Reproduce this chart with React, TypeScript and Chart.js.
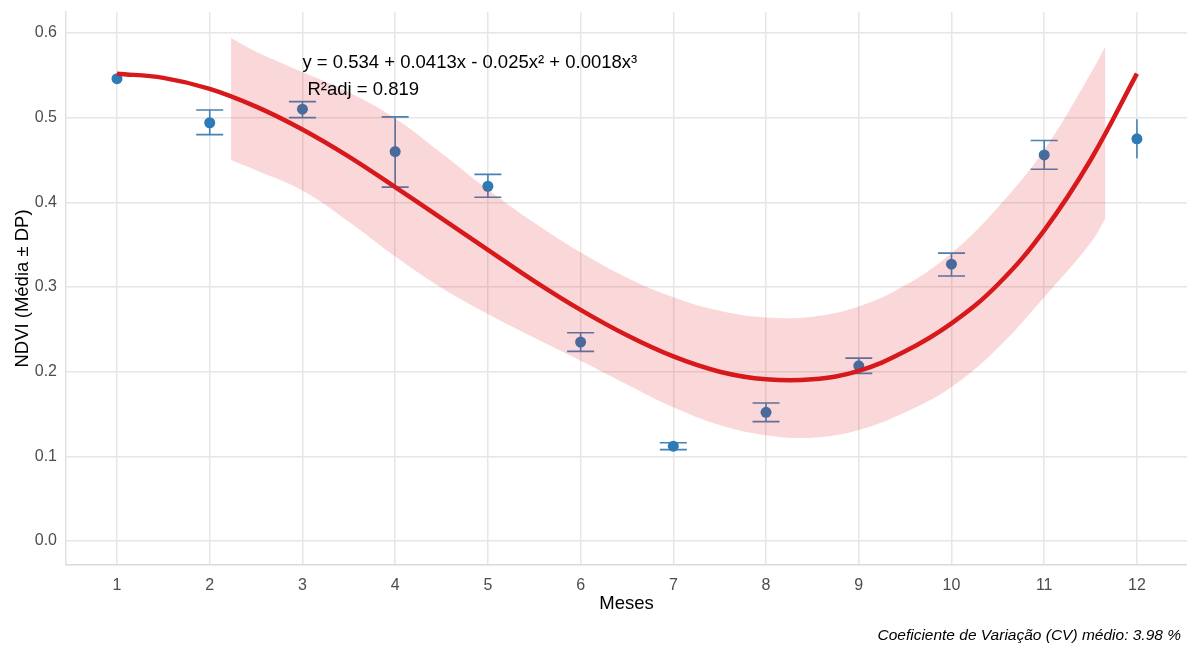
import React, { useEffect, useRef } from 'react';
import { Chart, registerables } from 'chart.js';

Chart.register(...registerables);

// ---- data ----
const months = [1, 2, 3, 4, 5, 6, 7, 8, 9, 10, 11, 12];
const ndviMean = [0.546, 0.494, 0.510, 0.460, 0.419, 0.235, 0.112, 0.152, 0.207, 0.327, 0.456, 0.475];
const ndviLow = [0.543, 0.480, 0.500, 0.418, 0.406, 0.224, 0.108, 0.141, 0.198, 0.313, 0.439, 0.452];
const ndviHigh = [0.549, 0.509, 0.519, 0.501, 0.433, 0.246, 0.116, 0.163, 0.216, 0.340, 0.473, 0.498];

const fitX = [1, 1.5, 2, 2.5, 3, 3.5, 4, 4.5, 5, 5.5, 6, 6.5, 7, 7.5, 8, 8.5, 9, 9.5, 10, 10.5, 11, 11.5, 12];
const fitY = [0.552, 0.547, 0.534, 0.513, 0.486, 0.454, 0.418, 0.381, 0.344, 0.307, 0.273, 0.243, 0.218, 0.200, 0.191, 0.191, 0.201, 0.224, 0.257, 0.303, 0.367, 0.450, 0.552];

const bandX = [2.23, 2.5, 3, 3.5, 4, 4.5, 5, 5.5, 6, 6.5, 7, 7.5, 8, 8.5, 9, 9.5, 10, 10.5, 11, 11.5, 11.66];
const bandUpper = [0.594, 0.578, 0.554, 0.530, 0.499, 0.458, 0.415, 0.376, 0.341, 0.311, 0.288, 0.272, 0.264, 0.265, 0.277, 0.302, 0.340, 0.394, 0.462, 0.552, 0.584];
const bandLower = [0.450, 0.438, 0.414, 0.377, 0.336, 0.299, 0.268, 0.240, 0.213, 0.185, 0.158, 0.137, 0.125, 0.122, 0.131, 0.152, 0.182, 0.228, 0.288, 0.352, 0.381];

const yTicks = [0, 0.1, 0.2, 0.3, 0.4, 0.5, 0.6];

const equationText = 'y = 0.534 + 0.0413x - 0.025x\u00B2 + 0.0018x\u00B3';
const r2Text = 'R\u00B2adj = 0.819';
const captionText = 'Coeficiente de Varia\u00E7\u00E3o (CV) m\u00E9dio: 3.98 %';
const xTitle = 'Meses';
const yTitle = 'NDVI (M\u00E9dia \u00B1 DP)';

const FONT = '"Liberation Sans", Arial, sans-serif';

export default function App() {
  const canvasRef = useRef<HTMLCanvasElement | null>(null);

  useEffect(() => {
    document.body.style.margin = '0';
    const canvas = canvasRef.current;
    if (!canvas) return;

    const errorBarPlugin = {
      id: 'errorBars',
      beforeDatasetDraw(chart: any, args: any) {
        if (args.index !== 3) return;
        const { ctx, scales } = chart;
        const xs = scales.x;
        const ys = scales.y;
        ctx.save();
        ctx.strokeStyle = '#4682b4';
        ctx.lineWidth = 1.6;
        const n = months.length;
        for (let i = 0; i < n; i++) {
          const px = xs.getPixelForValue(months[i]);
          const pLo = ys.getPixelForValue(ndviLow[i]);
          const pHi = ys.getPixelForValue(ndviHigh[i]);
          ctx.beginPath();
          ctx.moveTo(px, pLo);
          ctx.lineTo(px, pHi);
          if (i > 0 && i < n - 1) {
            const hw = 13.5;
            ctx.moveTo(px - hw, pLo);
            ctx.lineTo(px + hw, pLo);
            ctx.moveTo(px - hw, pHi);
            ctx.lineTo(px + hw, pHi);
          }
          ctx.stroke();
        }
        ctx.restore();
      },
    };

    const textPlugin = {
      id: 'texts',
      afterDatasetsDraw(chart: any) {
        const { ctx, scales } = chart;
        const xs = scales.x;
        const ys = scales.y;
        ctx.save();
        ctx.fillStyle = '#000000';
        ctx.font = `18.5px ${FONT}`;
        ctx.textAlign = 'left';
        ctx.textBaseline = 'middle';
        const x0 = xs.getPixelForValue(3.0);
        ctx.fillText(equationText, x0, ys.getPixelForValue(0.5645));
        ctx.fillText(r2Text, x0 + 5, ys.getPixelForValue(0.5327));
        ctx.restore();
      },
      afterDraw(chart: any) {
        const { ctx } = chart;
        ctx.save();
        ctx.fillStyle = '#000000';
        ctx.font = `italic 15.5px ${FONT}`;
        ctx.textAlign = 'right';
        ctx.textBaseline = 'middle';
        ctx.fillText(captionText, 1181, 636);
        ctx.restore();
      },
    };

    const chart = new Chart(canvas, {
      type: 'line',
      data: {
        datasets: [
          {
            label: 'fit',
            data: fitX.map((x, i) => ({ x, y: fitY[i] })),
            borderColor: '#d7191c',
            borderWidth: 4.5,
            pointRadius: 0,
            tension: 0.4,
            fill: false,
            order: 0,
          },
          {
            label: 'upper',
            data: bandX.map((x, i) => ({ x, y: bandUpper[i] })),
            borderWidth: 0,
            borderColor: 'rgba(0,0,0,0)',
            backgroundColor: 'rgba(227,26,28,0.17)',
            pointRadius: 0,
            tension: 0.4,
            fill: '+1',
            order: 1,
          },
          {
            label: 'lower',
            data: bandX.map((x, i) => ({ x, y: bandLower[i] })),
            borderWidth: 0,
            borderColor: 'rgba(0,0,0,0)',
            pointRadius: 0,
            tension: 0.4,
            fill: false,
            order: 2,
          },
          {
            label: 'mean',
            data: months.map((x, i) => ({ x, y: ndviMean[i] })),
            showLine: false,
            pointRadius: 5.5,
            pointHoverRadius: 5.5,
            pointBackgroundColor: '#2c7bb6',
            pointBorderWidth: 0,
            borderColor: '#2c7bb6',
            order: 3,
          },
        ],
      },
      options: {
        responsive: false,
        animation: false,
        maintainAspectRatio: false,
        layout: { autoPadding: false, padding: { top: 12, right: 0, bottom: 0, left: 0 } },
        plugins: {
          legend: { display: false },
          tooltip: { enabled: false },
          title: { display: false },
        },
        scales: {
          x: {
            type: 'linear',
            min: 0.45,
            max: 12.54,
            afterBuildTicks: (scale: any) => {
              scale.ticks = months.map((v) => ({ value: v }));
            },
            afterFit: (scale: any) => {
              scale.height = 80;
              scale.paddingLeft = 0;
              scale.paddingRight = 0;
            },
            grid: { color: '#e6e6e6', lineWidth: 1.5, drawTicks: false },
            border: { display: true, color: '#d9d9d9', width: 1.5 },
            ticks: {
              padding: 11,
              color: '#4d4d4d',
              font: { family: FONT, size: 16 },
              callback: (v: any) => String(v),
            },
            title: {
              display: true,
              text: xTitle,
              color: '#000000',
              font: { family: FONT, size: 18.5 },
              padding: { top: 0, bottom: 30 },
            },
          },
          y: {
            type: 'linear',
            min: -0.0283,
            max: 0.6248,
            afterBuildTicks: (scale: any) => {
              scale.ticks = yTicks.map((v) => ({ value: v }));
            },
            afterFit: (scale: any) => {
              scale.width = 66;
              scale.paddingTop = 0;
              scale.paddingBottom = 0;
            },
            grid: { color: '#e6e6e6', lineWidth: 1.5, drawTicks: false },
            border: { display: true, color: '#e0e0e0', width: 1.5 },
            ticks: {
              padding: 9,
              color: '#4d4d4d',
              font: { family: FONT, size: 16 },
              callback: (v: any) => Number(v).toFixed(1),
            },
            title: {
              display: true,
              text: yTitle,
              color: '#000000',
              font: { family: FONT, size: 18.5 },
              padding: { top: 12, bottom: 0 },
            },
          },
        },
      },
      plugins: [errorBarPlugin, textPlugin],
    } as any);

    return () => {
      chart.destroy();
    };
  }, []);

  return (
    <div style={{ width: 1187, height: 645, background: '#ffffff' }}>
      <canvas ref={canvasRef} width={1187} height={645} style={{ display: 'block', width: 1187, height: 645 }} />
    </div>
  );
}
